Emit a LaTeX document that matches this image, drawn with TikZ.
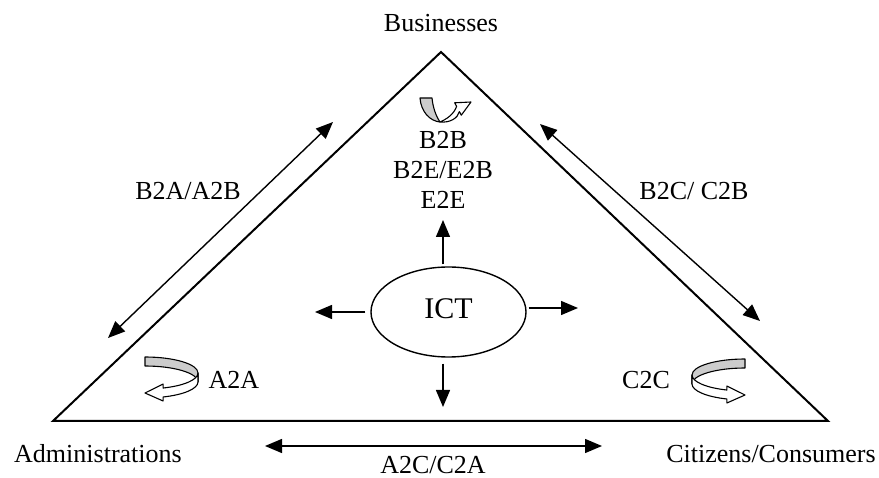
\documentclass[tikz,border=0pt]{standalone}
\usepackage{fontspec}
\setmainfont{Liberation Serif}
\usetikzlibrary{arrows.meta,shapes.geometric}
\begin{document}
\begin{tikzpicture}[x=1pt,y=-1pt,
  lbl/.style={font=\fontsize{26}{30}\selectfont, inner sep=0pt, anchor=base},
  arr/.style={line width=1.4pt, -{Triangle[length=17pt,width=14pt]}},
  darr/.style={line width=1.4pt, {Triangle[length=17pt,width=14pt]}-{Triangle[length=17pt,width=14pt]}},
  triedge/.style={line width=2pt, line join=miter},
  ribbon/.style={draw=black, line width=1.1pt, line join=round},
  uturn/.pic={
    \filldraw[ribbon, fill=gray!40] (0,-16) arc[start angle=-90, end angle=0, x radius=53, y radius=16]
      -- (53,9) arc[start angle=0, end angle=-90, x radius=53, y radius=16] -- cycle;
    \filldraw[ribbon, fill=white] (53,0) arc[start angle=0, end angle=70, x radius=53, y radius=16]
      -- (18.1,11) -- (0,20) -- (18.1,28) -- (18.1,24)
      arc[start angle=70, end angle=0, x radius=53, y radius=16] -- cycle;
  }
]
\useasboundingbox (0,0) rectangle (879,478);
% triangle
\coordinate (B) at (441,52);
\coordinate (A) at (53,421);
\coordinate (C) at (828,421);
\draw[triedge] (B) -- (C) -- (A) -- cycle;

% corner labels
\node[lbl] (bus) at (441,32) {Businesses};
\node[lbl] (adm) at (98,463) {Administrations};
\node[lbl] (cit) at (771,463) {Citizens/Consumers};

% side relations
\coordinate (l1) at (108,338);
\coordinate (l2) at (333,122);
\draw[darr] (l1) -- (l2);
\node[lbl] (b2a) at (188,200) {B2A/A2B};

\coordinate (r1) at (540,124);
\coordinate (r2) at (760,321);
\draw[darr] (r1) -- (r2);
\node[lbl] (b2c) at (694,200) {B2C/ C2B};

\coordinate (b1) at (265,446);
\coordinate (b2) at (602,446);
\draw[darr] (b1) -- (b2);
\node[lbl] (a2c) at (433,473) {A2C/C2A};

% inner labels
\node[lbl] (b2b) at (443,149) {B2B};
\node[lbl] (b2e) at (443,179) {B2E/E2B};
\node[lbl] (e2e) at (443,209) {E2E};
\node[lbl] (a2a) at (234,389) {A2A};
\node[lbl] (c2c) at (646,389) {C2C};

% ICT
\node[ellipse, draw, line width=1.4pt, minimum width=155pt, minimum height=90pt,
      inner sep=0pt, font=\fontsize{30}{36}\selectfont] (ict) at (448.5,312) {\raisebox{7pt}{ICT}};
\coordinate (tl) at (315,312);
\coordinate (tr) at (578,308);
\coordinate (tu) at (443,220);
\coordinate (td) at (443,407);
\draw[arr, shorten <=5pt] (tl -| ict.west) -- (tl);
\draw[arr, shorten <=2pt] (tr -| ict.east) -- (tr);
\draw[arr, shorten <=2pt] (ict.north -| tu) -- (tu);
\draw[arr, shorten <=6pt] (ict.south -| td) -- (td);

% U-turn ribbons
\pic at (145,373) {uturn};
\pic[xscale=-1] at (745,375) {uturn};

% top U-turn
\filldraw[ribbon, fill=gray!40] (420,98) .. controls (421,112) and (430,121) .. (440,122)
  .. controls (436,116) and (433,108) .. (432,98) -- cycle;
\filldraw[ribbon, fill=white] (440,122) .. controls (450,123) and (458,118) .. (459.4,111.6)
  -- (461.3,115.2) -- (471,102) -- (454.7,102.8) -- (456.6,106.4)
  .. controls (454,114) and (447,119) .. (440,122) -- cycle;
\end{tikzpicture}
\end{document}
